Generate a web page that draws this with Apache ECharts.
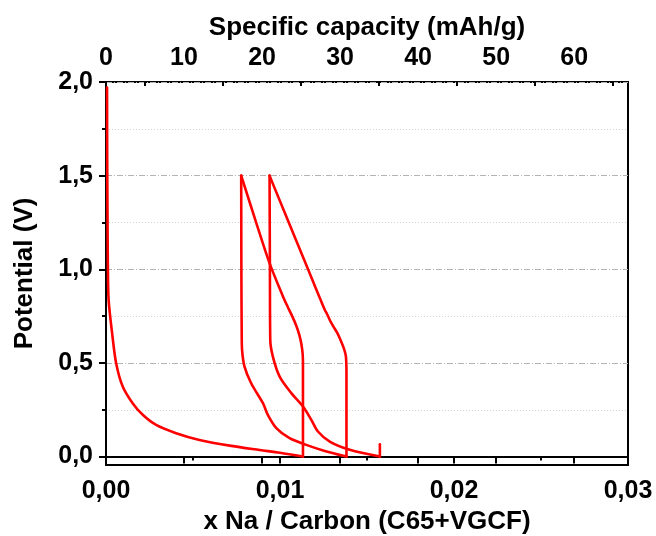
<!DOCTYPE html>
<html>
<head>
<meta charset="utf-8">
<script src="https://cdn.jsdelivr.net/npm/echarts@6/dist/echarts.min.js"></script>
<style>
html,body{margin:0;padding:0;background:#fff;}
#chart{width:656px;height:536px;}
</style>
</head>
<body>
<div id="chart"></div>
<script>
// ---- data (x Na per C, potential V) ----
const d1x = [0.00006, 0.00007, 0.00009, 0.00011, 0.00015, 0.00035, 0.00058, 0.00096, 0.00153, 0.00211, 0.00288, 0.00403, 0.00537, 0.0072, 0.00883, 0.0100, 0.01132];
const d1v = [1.97, 1.58, 1.23, 1.00, 0.837, 0.66, 0.50, 0.374, 0.285, 0.223, 0.169, 0.125, 0.089, 0.057, 0.035, 0.020, 0.000];
const c1x = [0.01132, 0.01132, 0.01132, 0.0113, 0.01123, 0.01111, 0.01093, 0.0107, 0.01044, 0.01017, 0.0094, 0.00864, 0.00777];
const c1v = [0.000, 0.30, 0.50, 0.55, 0.60, 0.65, 0.70, 0.75, 0.80, 0.855, 1.033, 1.247, 1.50];
const d2x = [0.00777, 0.00778, 0.0078, 0.00782, 0.00796, 0.00835, 0.00902, 0.0093, 0.00979, 0.01055, 0.01151, 0.01257, 0.01382];
const d2v = [1.50, 1.00, 0.65, 0.57, 0.48, 0.39, 0.285, 0.223, 0.152, 0.098, 0.0625, 0.030, 0.000];
const c2x = [0.01382, 0.01382, 0.01382, 0.01381, 0.01378, 0.01366, 0.01349, 0.01329, 0.01303, 0.01286, 0.01271, 0.01257, 0.01233, 0.0117, 0.01099, 0.01028, 0.0094];
const c2v = [0.000, 0.30, 0.45, 0.50, 0.54, 0.58, 0.62, 0.66, 0.70, 0.729, 0.76, 0.784, 0.837, 0.98, 1.14, 1.30, 1.50];
const d3x = [0.0094, 0.00942, 0.00944, 0.00959, 0.00998, 0.01065, 0.01132, 0.0118, 0.01218, 0.01286, 0.01401, 0.01574];
const d3v = [1.50, 1.00, 0.623, 0.534, 0.427, 0.339, 0.267, 0.196, 0.134, 0.080, 0.036, 0.000];
const c3x = [0.01574, 0.01574];
const c3v = [0.000, 0.066];

// ---- axis ticks ----
const xTicks = [0, 0.01, 0.02, 0.03];
const capTicks = [0, 10, 20, 30, 40, 50, 60];
const capMinor = [5, 15, 25, 35, 45, 55, 65];
const capMax = 66.9;
const yTicks = [0, 0.5, 1.0, 1.5, 2.0];
const yMinor = [0.25, 0.75, 1.25, 1.75];

const FONT = 'Liberation Sans, Arial, sans-serif';
const lab = {fontFamily: FONT, fontWeight: 'bold', fontSize: 25, color: '#000'};
const nameLab = {fontFamily: FONT, fontWeight: 'bold', fontSize: 26, color: '#000'};
const comma = (v, d) => v.toFixed(d).replace('.', ',');
const pair = (xs, vs) => xs.map((x, i) => [x, vs[i]]);

const segs = [[d1x, d1v], [c1x, c1v], [d2x, d2v], [c2x, c2v], [d3x, d3v], [c3x, c3v]];

const chart = echarts.init(document.getElementById('chart'));
chart.setOption({
  animation: false,
  backgroundColor: '#fff',
  grid: {left: 106, right: 28, top: 82, bottom: 71, containLabel: false, outerBoundsMode: 'none',
         show: true, borderColor: '#000', borderWidth: 2, backgroundColor: 'transparent'},
  xAxis: [
    {
      type: 'value', position: 'bottom', min: 0, max: 0.03, interval: 0.01,
      name: 'x Na / Carbon (C65+VGCF)', nameLocation: 'middle', nameGap: 43,
      nameTextStyle: nameLab,
      axisLine: {show: true, lineStyle: {color: '#000', width: 2}},
      axisTick: {show: true, length: 7, lineStyle: {color: '#000', width: 2}},
      minorTick: {show: true, splitNumber: 2, length: 4, lineStyle: {color: '#000', width: 2}},
      axisLabel: Object.assign({margin: 14, formatter: v => comma(v, 2)}, lab),
      splitLine: {show: false}
    },
    {
      type: 'value', position: 'top', min: 0, max: capMax,
      name: 'Specific capacity (mAh/g)', nameLocation: 'middle', nameGap: 39,
      nameTextStyle: nameLab,
      axisLine: {show: true, lineStyle: {color: '#000', width: 2}},
      axisTick: {show: true, inside: true, length: 7, customValues: capTicks, lineStyle: {color: '#000', width: 2}},
      axisLabel: Object.assign({margin: 11, customValues: capTicks, formatter: v => String(v)}, lab),
      splitLine: {show: false}
    },
    {
      type: 'value', position: 'top', min: 0, max: capMax,
      axisLine: {show: false},
      axisTick: {show: true, inside: true, length: 4, customValues: capMinor, lineStyle: {color: '#000', width: 2}},
      axisLabel: {show: false},
      splitLine: {show: false}
    }
  ],
  yAxis: [
    {
      type: 'value', position: 'left', min: -0.045, max: 2.0,
      name: 'Potential (V)', nameLocation: 'middle', nameGap: 68,
      nameTextStyle: nameLab,
      axisLine: {show: true, lineStyle: {color: '#000', width: 2}},
      axisTick: {show: true, length: 7, customValues: yTicks, lineStyle: {color: '#000', width: 2}},
      axisLabel: Object.assign({margin: 13, customValues: yTicks, formatter: v => comma(v, 1)}, lab),
      splitLine: {show: true, lineStyle: {color: '#b4b4b4', width: 1, type: [6, 2, 1, 2]}}
    },
    {
      type: 'value', position: 'left', min: -0.045, max: 2.0,
      axisLine: {show: false},
      axisTick: {show: true, length: 4, customValues: yMinor, lineStyle: {color: '#000', width: 2}},
      axisLabel: {show: false},
      splitLine: {show: true, lineStyle: {color: '#d2d2d2', width: 1, type: [1, 2]}}
    }
  ],
  series: segs.map((s, i) => ({
    type: 'line', xAxisIndex: 0, yAxisIndex: 0,
    data: pair(s[0], s[1]),
    showSymbol: false, smooth: 0.3,
    lineStyle: {color: '#ff0000', width: 2.6, cap: 'round', join: 'round'},
    z: 5
  }))
});
</script>
</body>
</html>
